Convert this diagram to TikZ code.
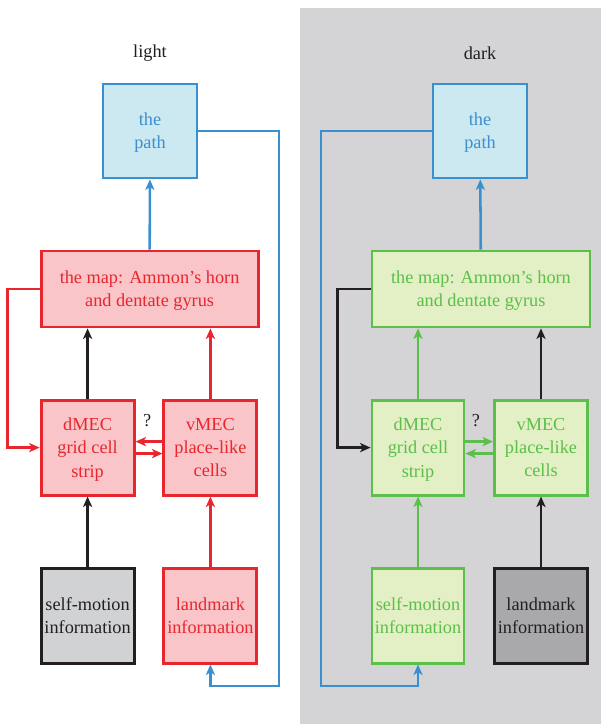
\documentclass[tikz,border=0pt]{standalone}
\usepackage{fontspec}
\setmainfont{Liberation Serif}
\usetikzlibrary{positioning,arrows.meta}
\definecolor{lred}{HTML}{E8262E}
\definecolor{lredfill}{HTML}{F9C5C8}
\definecolor{lgreen}{HTML}{5CBF4A}
\definecolor{lgreenfill}{HTML}{E3EFC4}
\definecolor{lblue}{HTML}{3A8FD0}
\definecolor{lbluefill}{HTML}{CCE8F0}
\definecolor{lgrayfill}{HTML}{D1D2D4}
\definecolor{dgrayfill}{HTML}{A9A9AB}
\definecolor{panelgray}{HTML}{D4D4D6}
\definecolor{ink}{HTML}{231F20}
\tikzset{
  flowarrow/.style={-{Stealth[length=7.5pt,width=6.5pt,inset=2pt]}, line width=1.8pt},
  cellbox/.style={draw, line width=2pt, minimum width=2.325cm, minimum height=2.375cm, inner sep=0pt, text depth=0pt, align=center},
  mapbox/.style={draw, line width=2pt, minimum width=5.425cm, minimum height=1.9cm, inner sep=0pt, text depth=0pt, align=center},
  pathbox/.style={draw, line width=2pt, minimum width=2.35cm, minimum height=2.35cm, inner sep=0pt, text depth=0pt, align=center},
  redbox/.style={draw=lred, fill=lredfill, text=lred},
  greenbox/.style={draw=lgreen, fill=lgreenfill, text=lgreen},
  bluebox/.style={draw=lblue, fill=lbluefill, text=lblue},
  graybox/.style={draw=ink, fill=lgrayfill, text=ink},
  darkbox/.style={draw=ink, fill=dgrayfill, text=ink}
}

\begin{document}
\begin{tikzpicture}[every node/.style={font=\fontsize{13}{16.5}\selectfont}]
  \useasboundingbox (0,0) rectangle (15.025,-18.1);
  \fill[panelgray] (7.5,-0.2) rectangle (15.025,-18.1);

  % light
  \node[text=ink] (llabel) at (3.75,-1.325) {light};
  \node[pathbox, bluebox] (lpath) at (3.75,-3.275) {the\\path};
  \node[mapbox, redbox] (lmap) at (3.74,-7.225) {the map: Ammon's horn\\and dentate gyrus};
  \node[cellbox, redbox] (ldmec) at (2.19,-11.19) {dMEC\\grid cell\\strip};
  \node[cellbox, redbox] (lvmec) at (5.26,-11.19) {vMEC\\place-like\\cells};
  \node[cellbox, graybox] (lself) at (2.19,-15.39) {self-motion\\information};
  \node[cellbox, redbox] (lland) at (5.26,-15.39) {landmark\\information};
  \coordinate (lcorner) at (6.975,-17.15);

  \draw[flowarrow, lblue] (lmap) -- (lpath);
  \draw[flowarrow, ink] (ldmec) -- (ldmec |- lmap.south);
  \draw[flowarrow, lred] (lvmec) -- (lvmec |- lmap.south);
  \draw[flowarrow, ink] (lself) -- (ldmec);
  \draw[flowarrow, lred] (lland) -- (lvmec);
  \draw[flowarrow, lred] ([yshift=0.15cm]lvmec.west) -- ([yshift=0.15cm]ldmec.east);
  \draw[flowarrow, lred] ([yshift=-0.15cm]ldmec.east) -- ([yshift=-0.15cm]lvmec.west);
  \node[text=ink] (lq) at (3.68,-10.52) {?};
  \draw[flowarrow, lred] (lmap.west) -- ++(-0.8,0) |- (ldmec.west);
  \draw[flowarrow, lblue] (lpath.east) -| (lcorner) -| (lland.south);

  % dark
  \node[text=ink] (rlabel) at (12.0,-1.325) {dark};
  \node[pathbox, bluebox] (rpath) at (12.0,-3.275) {the\\path};
  \node[mapbox, greenbox, minimum width=5.45cm] (rmap) at (12.025,-7.225) {the map: Ammon's horn\\and dentate gyrus};
  \node[cellbox, greenbox, minimum width=2.3cm] (rdmec) at (10.45,-11.19) {dMEC\\grid cell\\strip};
  \node[cellbox, greenbox] (rvmec) at (13.525,-11.19) {vMEC\\place-like\\cells};
  \node[cellbox, greenbox, minimum width=2.3cm] (rself) at (10.45,-15.39) {self-motion\\information};
  \node[cellbox, darkbox] (rland) at (13.525,-15.39) {landmark\\information};
  \coordinate (rcorner) at (8.025,-17.15);

  \draw[flowarrow, lblue] (rmap) -- (rpath);
  \draw[flowarrow, lgreen] (rdmec) -- (rdmec |- rmap.south);
  \draw[flowarrow, ink] (rvmec) -- (rvmec |- rmap.south);
  \draw[flowarrow, lgreen] (rself) -- (rdmec);
  \draw[flowarrow, ink] (rland) -- (rvmec);
  \draw[flowarrow, lgreen] ([yshift=0.15cm]rdmec.east) -- ([yshift=0.15cm]rvmec.west);
  \draw[flowarrow, lgreen] ([yshift=-0.15cm]rvmec.west) -- ([yshift=-0.15cm]rdmec.east);
  \node[text=ink] (rq) at (11.9,-10.52) {?};
  \draw[flowarrow, ink] (rmap.west) -- ++(-0.825,0) |- (rdmec.west);
  \draw[flowarrow, lblue] (rpath.west) -| (rcorner) -| (rself.south);
\end{tikzpicture}
\end{document}
